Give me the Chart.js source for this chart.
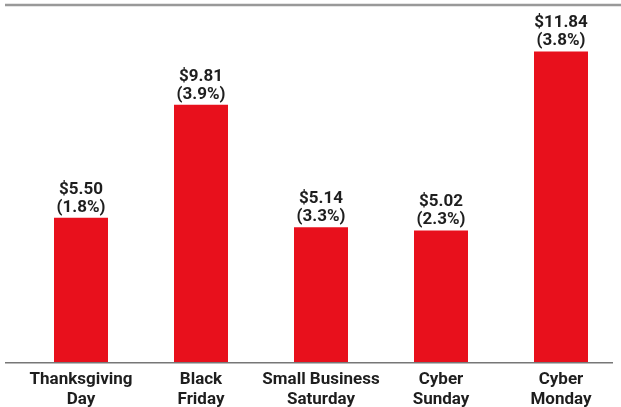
<!DOCTYPE html>
<html>
<head>
<meta charset="utf-8">
<script src="https://cdn.jsdelivr.net/npm/chart.js@4.4.0/dist/chart.umd.min.js"></script>
<style>
  html, body { margin: 0; padding: 0; background: #fff; }
  #wrap { width: 621px; height: 407px; }
</style>
</head>
<body>
<div id="wrap"><canvas id="chart" width="621" height="407"></canvas></div>
<script>
const days = [["Thanksgiving", "Day"], ["Black", "Friday"], ["Small Business", "Saturday"], ["Cyber", "Sunday"], ["Cyber", "Monday"]];
const sales = [5.50, 9.81, 5.14, 5.02, 11.84];
const growth = [1.8, 3.9, 3.3, 2.3, 3.8];

const ctx = document.getElementById('chart').getContext('2d');
const font = "Roboto, 'Liberation Sans', sans-serif";

// value labels above each bar + the rules
const extras = {
    id: 'extras',
    afterDatasetsDraw(chart) {
        const c = chart.ctx;
        const meta = chart.getDatasetMeta(0);
        c.save();
        c.fillStyle = '#1e1e1e';
        c.font = "bold 17px " + font;
        c.textAlign = 'center';
        c.textBaseline = 'alphabetic';
        meta.data.forEach((bar, i) => {
            c.fillText('$' + sales[i].toFixed(2), bar.x, bar.y - 24);
            c.fillText('(' + growth[i].toFixed(1) + '%)', bar.x, bar.y - 6);
        });
        // baseline
        const yb = chart.scales.y.getPixelForValue(0);
        c.strokeStyle = '#777';
        c.lineWidth = 1.5;
        c.beginPath();
        c.moveTo(5, yb + 0.5);
        c.lineTo(613, yb + 0.5);
        c.stroke();
        // top rule
        c.strokeStyle = '#999';
        c.lineWidth = 2.5;
        c.beginPath();
        c.moveTo(5, 5);
        c.lineTo(621, 5);
        c.stroke();
        c.restore();
    }
};

new Chart(ctx, {
    type: 'bar',
    data: {
        labels: days,
        datasets: [{
            data: sales,
            backgroundColor: '#e8101c',
            categoryPercentage: 1,
            barPercentage: 0.45
        }]
    },
    options: {
        responsive: false,
        animation: false,
        layout: { padding: { left: 21, right: 0, top: 21, bottom: -10 } },
        plugins: { legend: { display: false }, tooltip: { enabled: false } },
        scales: {
            x: {
                grid: { display: false, drawTicks: false },
                border: { display: false },
                ticks: {
                    color: '#1e1e1e',
                    padding: 7,
                    autoSkip: false,
                    maxRotation: 0,
                    font: { family: font, weight: 'bold', size: 17, lineHeight: 1.2 }
                }
            },
            y: {
                display: false,
                min: 0,
                max: 13
            }
        }
    },
    plugins: [extras]
});
</script>
</body>
</html>
